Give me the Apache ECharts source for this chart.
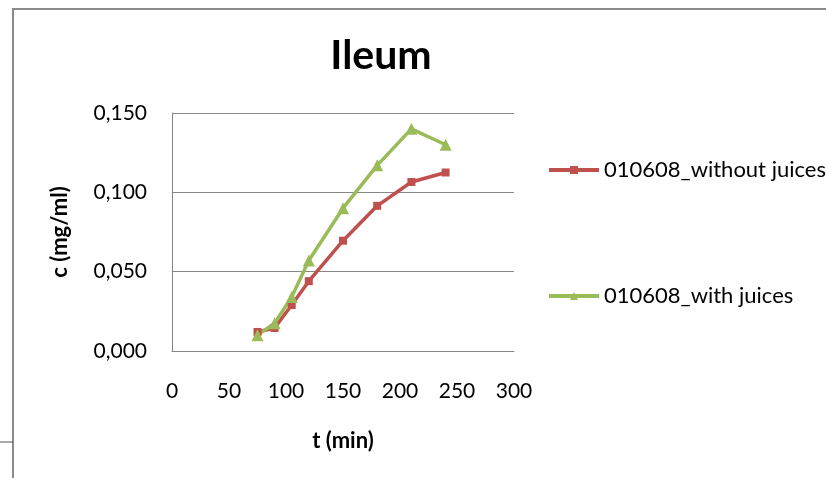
<!DOCTYPE html>
<html>
<head>
<meta charset="utf-8">
<script src="https://cdn.jsdelivr.net/npm/echarts@6/dist/echarts.min.js"></script>
<style>
  html, body { margin: 0; padding: 0; background: #fff; }
  #chart { width: 826px; height: 478px; }
</style>
</head>
<body>
<div id="chart"></div>
<script>
// time points (min)
var times = [75, 90, 105, 120, 150, 180, 210, 240];
// concentrations c (mg/ml)
var withoutJuices = [0.012, 0.0145, 0.029, 0.044, 0.0695, 0.0915, 0.1065, 0.1125];
var withJuices = [0.010, 0.0175, 0.034, 0.057, 0.090, 0.117, 0.140, 0.130];
var seriesNames = ['010608_without juices', '010608_with juices'];
var yTicks = [0, 0.05, 0.1, 0.15];

function pairs(xs, ys) {
  return xs.map(function (x, i) { return [x, ys[i]]; });
}

var font = 'Lato, "Open Sans", sans-serif';

function legendAt(name, top) {
  return {
    orient: 'vertical',
    left: 547,
    top: top,
    padding: 0,
    itemWidth: 50,
    itemHeight: 10,
    itemGap: 0,
    lineStyle: { width: 4 },
    textStyle: { fontFamily: font, fontSize: 22, lineHeight: 22, color: '#000' },
    data: [name]
  };
}

var chart = echarts.init(document.getElementById('chart'));
var option = {
  animation: false,
  backgroundColor: '#fff',
  title: {
    text: 'Ileum',
    left: 376,
    top: 30,
    textAlign: 'center',
    textStyle: { fontFamily: font, fontSize: 41, fontWeight: 'bold', color: '#000' }
  },
  legend: [legendAt(seriesNames[0], 159), legendAt(seriesNames[1], 285)],
  grid: { left: 172, right: 312, top: 113, bottom: 127 },
  xAxis: {
    type: 'value',
    min: 0,
    max: 300,
    interval: 50,
    name: 't (min)',
    nameLocation: 'middle',
    nameGap: 79,
    nameTextStyle: { fontFamily: font, fontSize: 22, fontWeight: 'bold', color: '#000' },
    axisLine: { lineStyle: { color: '#868686', width: 1 } },
    axisTick: { show: false },
    splitLine: { show: false },
    axisLabel: { fontFamily: font, fontSize: 21, color: '#000', margin: 30 }
  },
  yAxis: {
    type: 'value',
    min: yTicks[0],
    max: yTicks[yTicks.length - 1],
    interval: 0.05,
    name: 'c (mg/ml)',
    nameLocation: 'middle',
    nameGap: 101,
    nameTextStyle: { fontFamily: font, fontSize: 22, fontWeight: 'bold', color: '#000' },
    axisLine: { show: true, lineStyle: { color: '#868686', width: 1 } },
    axisTick: { show: false },
    splitLine: { lineStyle: { color: '#868686', width: 1 } },
    axisLabel: {
      fontFamily: font, fontSize: 21, color: '#000', margin: 25,
      formatter: function (v) { return v.toFixed(3).replace('.', ','); }
    }
  },
  series: [
    {
      name: seriesNames[0],
      type: 'line',
      data: pairs(times, withoutJuices),
      symbol: 'rect',
      symbolSize: 8,
      lineStyle: { color: '#C0504D', width: 3.5 },
      itemStyle: { color: '#C0504D' }
    },
    {
      name: seriesNames[1],
      type: 'line',
      data: pairs(times, withJuices),
      symbol: 'triangle',
      symbolSize: 12,
      lineStyle: { color: '#9BBB59', width: 3.5 },
      itemStyle: { color: '#9BBB59' }
    }
  ],
  graphic: [
    { type: 'polyline', shape: { points: [[13, 478], [13, 9], [826, 9]] },
      style: { stroke: '#8a8a8a', lineWidth: 2, fill: null } },
    { type: 'line', shape: { x1: 0, y1: 442, x2: 13, y2: 442 },
      style: { stroke: '#555', lineWidth: 1 } }
  ]
};
chart.setOption(option);
</script>
</body>
</html>
